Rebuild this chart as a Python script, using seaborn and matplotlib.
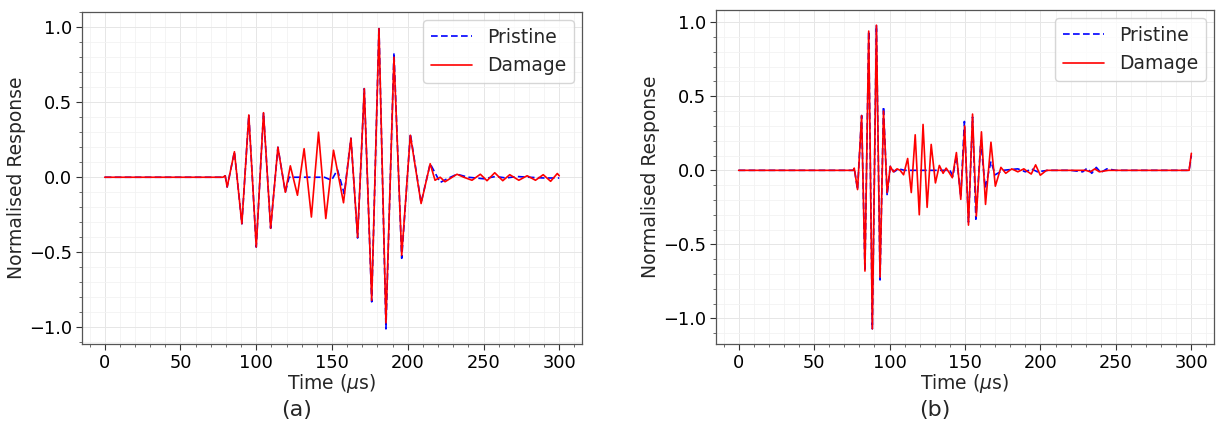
import numpy as np
import pandas as pd
import matplotlib
matplotlib.use("Agg")
import matplotlib.pyplot as plt
from matplotlib.ticker import MultipleLocator
import seaborn as sns

# ---------------- Panel (a) ----------------
a_common_t = [0, 78, 79.5, 80.8, 85.6, 90.5, 95.1, 100.0, 104.8, 109.5, 114.3, 119.2]
a_common_v = [0.0, 0.0, 0.01, -0.065, 0.17, -0.31, 0.415, -0.465, 0.43, -0.34, 0.20, -0.10]

a_pristine_t = [121.7, 145.0, 149.7, 153.6, 158.1, 162.5, 166.9, 171.3, 176.2, 181.0, 185.6,
                190.9, 196.0, 201.7, 208.8, 214.8, 221.4, 226.0, 232.5, 240.0, 250.0, 258.0,
                265.0, 272.0, 280.0, 290.0, 300.0]
a_pristine_v = [0.0, 0.0, -0.02, 0.05, -0.11, 0.26, -0.405, 0.59, -0.83, 1.0, -1.01,
                0.83, -0.54, 0.29, -0.17, 0.09, -0.035, -0.01, 0.02, 0.0, -0.01, 0.005,
                -0.005, 0.005, 0.0, -0.005, -0.005]

a_damage_t = [122.5, 127.2, 131.6, 136.4, 141.1, 145.9, 151.0, 157.6, 162.5, 166.9, 171.3,
              176.2, 181.0, 185.6, 190.9, 196.0, 201.7, 208.8, 214.8, 218.0, 221.4, 224.6,
              232.5, 237.0, 242.4, 247.9, 252.3, 257.4, 262.7, 267.3, 273.3, 278.8, 284.3,
              289.4, 294.3, 298.7, 300.0]
a_damage_v = [0.076, -0.12, 0.19, -0.265, 0.30, -0.275, 0.18, -0.17, 0.26, -0.40, 0.59,
              -0.82, 0.99, -0.97, 0.80, -0.52, 0.28, -0.175, 0.09, -0.02, 0.0, -0.03,
              0.02, 0.0, -0.02, 0.02, -0.023, 0.03, -0.023, 0.017, -0.02, 0.01, -0.02,
              0.017, -0.027, 0.025, 0.01]

# ---------------- Panel (b) ----------------
b_common_t = [0, 76.0, 76.6, 78.8, 81.5, 83.7, 86.2, 88.6, 91.3]
b_common_v = [0.0, 0.0, 0.015, -0.13, 0.37, -0.68, 0.94, -1.07, 0.98]

b_pristine_t = [93.7, 96.0, 98.4, 100.5, 103.0, 106.0, 110.0, 140.0, 142.0, 144.3, 147.2,
                149.6, 152.3, 155.0, 157.2, 160.5, 163.4, 167.2, 170.0, 175.0, 185.0,
                190.0, 194.0, 198.0, 205.0, 220.0, 228.0, 231.0, 234.0, 237.0, 240.0,
                244.0, 250.0, 270.0, 290.0, 298.5, 300.0]
b_pristine_v = [-0.74, 0.43, -0.17, 0.027, -0.01, 0.01, 0.0, 0.0, -0.04, 0.10, -0.18,
                0.33, -0.35, 0.36, -0.33, 0.20, -0.12, 0.06, -0.03, 0.0, 0.01,
                -0.01, 0.01, -0.01, 0.0, 0.0, -0.01, 0.015, -0.02, 0.02, -0.015,
                0.01, 0.0, 0.0, 0.0, 0.0, 0.10]

b_damage_t = [93.7, 96.0, 98.4, 100.5, 102.5, 105.0, 107.0, 109.3, 112.0, 114.4, 117.0,
              119.7, 122.2, 124.9, 127.6, 130.4, 133.0, 135.5, 137.5, 139.5, 141.6, 144.3,
              147.2, 149.8, 152.3, 155.0, 157.5, 160.9, 163.6, 167.2, 170.1, 173.8, 177.0,
              181.0, 185.0, 189.0, 191.0, 193.9, 196.8, 199.9, 204.0, 215.0, 230.0, 233.0,
              236.0, 239.0, 245.0, 260.0, 280.0, 296.0, 298.5, 300.0]
b_damage_v = [-0.72, 0.40, -0.15, 0.027, -0.01, 0.01, 0.0, -0.03, 0.08, -0.15, 0.24,
              -0.30, 0.31, -0.25, 0.175, -0.085, 0.033, -0.02, 0.015, -0.015, -0.05, 0.12,
              -0.196, 0.30, -0.37, 0.38, -0.31, 0.26, -0.23, 0.19, -0.107, 0.02, -0.02,
              0.01, -0.01, 0.01, -0.005, -0.025, 0.037, -0.033, 0.0, 0.0, 0.0, -0.01,
              0.01, -0.01, 0.0, 0.0, 0.0, 0.0, 0.0, 0.115]

captions = ["(a)", "(b)"]
series_names = ["Pristine", "Damage"]
x_label = "Time ($\\mu$s)"
y_label = "Normalised Response"


def build(common_t, common_v, pris_t, pris_v, dam_t, dam_v):
    p = pd.DataFrame({"t": common_t + pris_t, "v": common_v + pris_v, "s": series_names[0]})
    d = pd.DataFrame({"t": common_t + dam_t, "v": common_v + dam_v, "s": series_names[1]})
    return pd.concat([p, d], ignore_index=True)


df_a = build(a_common_t, a_common_v, a_pristine_t, a_pristine_v, a_damage_t, a_damage_v)
df_b = build(b_common_t, b_common_v, b_pristine_t, b_pristine_v, b_damage_t, b_damage_v)

sns.set_theme(style="ticks")
plt.rcParams["font.family"] = ["DejaVu Sans"]
plt.rcParams["mathtext.fontset"] = "dejavusans"

FS = 13.5
TS = 12.8
W, H = 1228, 433
fig = plt.figure(figsize=(W / 100, H / 100), dpi=100)
ax_a = fig.add_axes([82 / W, 1 - 344 / H, 500 / W, 332 / H])
ax_b = fig.add_axes([716 / W, 1 - 344 / H, 498 / W, 334 / H])
cap_x = [297 / W, 935 / W]

for ax, df, cap, cx in [(ax_a, df_a, captions[0], cap_x[0]), (ax_b, df_b, captions[1], cap_x[1])]:
    sns.lineplot(data=df, x="t", y="v", hue="s", style="s",
                 hue_order=series_names, style_order=series_names,
                 palette={"Pristine": "#0000ff", "Damage": "#ff0000"},
                 dashes={"Pristine": (4, 2), "Damage": ""},
                 estimator=None, sort=False, linewidth=1.2, ax=ax)
    ax.xaxis.set_major_locator(MultipleLocator(50))
    ax.xaxis.set_minor_locator(MultipleLocator(10))
    ax.yaxis.set_major_locator(MultipleLocator(0.5))
    ax.yaxis.set_minor_locator(MultipleLocator(0.1))
    ax.grid(which="major", color="#e6e6e6", linewidth=0.7)
    ax.grid(which="minor", color="#f2f2f2", linewidth=0.6)
    ax.set_axisbelow(True)
    ax.tick_params(labelsize=TS, length=4, width=0.8, pad=3, colors="#333333", labelcolor="black")
    ax.tick_params(which="minor", length=2, width=0.6, colors="#555555")
    for sp in ax.spines.values():
        sp.set_color("#555555")
        sp.set_linewidth(0.9)
    ax.set_xlabel(x_label, fontsize=FS, labelpad=0)
    ax.set_ylabel(y_label, fontsize=FS, labelpad=2)
    ax.margins(x=0.05, y=0.05)
    leg = ax.legend(loc="upper right", fontsize=FS, frameon=True, handlelength=2.2,
                    borderaxespad=0.45)
    leg.get_frame().set_edgecolor("#cccccc")
    fig.text(cx, 1 - 410 / H, cap, ha="center", va="center", fontsize=16)

fig.savefig("out.png", dpi=100)
